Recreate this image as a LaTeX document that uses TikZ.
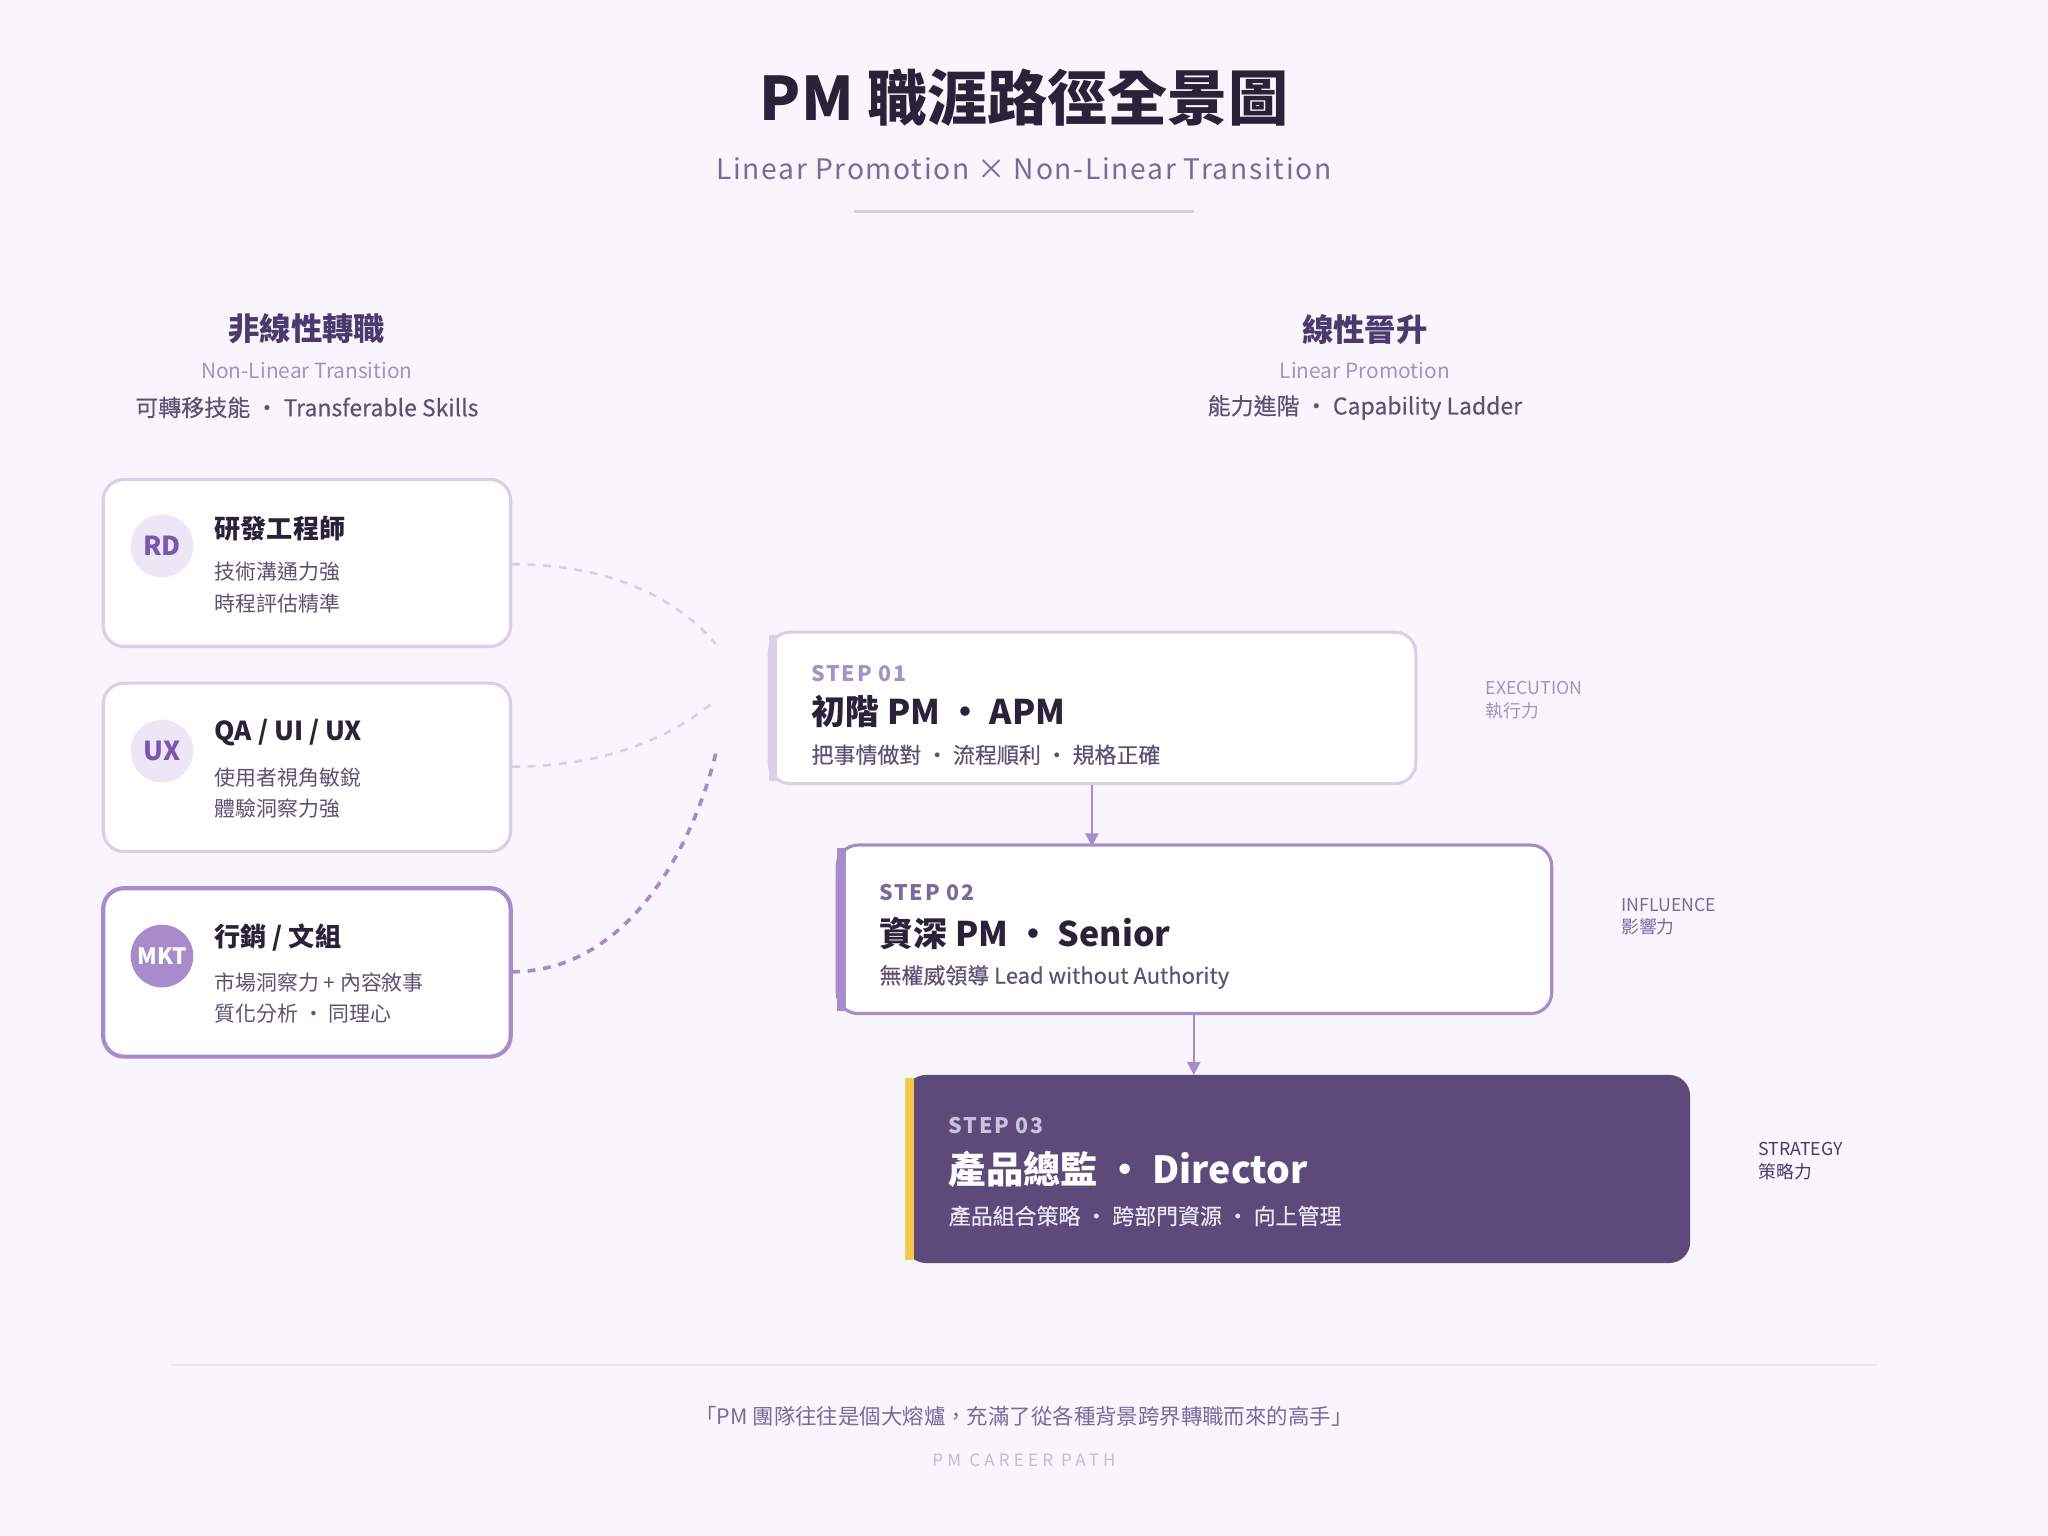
\documentclass[tikz,border=0pt]{standalone}
\usepackage{fontspec}
\setmainfont{Noto Sans CJK TC}
\usetikzlibrary{arrows.meta}
\definecolor{bg}{HTML}{F8F5FC}
\definecolor{ink}{HTML}{2A2238}
\definecolor{head}{HTML}{4A3A6E}
\definecolor{sub}{HTML}{7A6A9E}
\definecolor{pale}{HTML}{A394C4}
\definecolor{txt}{HTML}{5E5274}
\definecolor{lbd}{HTML}{D9CFEB}
\definecolor{mid}{HTML}{A98BCB}
\definecolor{circ}{HTML}{EDE6F6}
\definecolor{circtx}{HTML}{7A56B0}
\definecolor{dark}{HTML}{5E4A7A}
\definecolor{gold}{HTML}{F2C94C}
\begin{document}
\begin{tikzpicture}[x=0.5pt,y=-0.5pt,
  lbl/.style={inner sep=0,anchor=west},
  card/.style={draw=lbd,line width=1.2pt,fill=white,rounded corners=8pt},
  circ/.style={circle,fill=circ,text=circtx,font=\fontsize{10}{10}\selectfont\bfseries,minimum size=24pt,inner sep=0},
  ctitle/.style={lbl,font=\fontsize{10}{12}\selectfont\bfseries,text=ink},
  cline/.style={lbl,font=\fontsize{8}{10}\selectfont,text=txt},
  steplbl/.style={lbl,font=\fontsize{8.2}{10}\selectfont\bfseries,text=sub},
  stitle/.style={lbl,font=\fontsize{13}{15}\selectfont\bfseries,text=ink},
  ssub/.style={lbl,font=\fontsize{8.4}{10}\selectfont\addfontfeature{FakeBold=0.3},text=txt},
  side/.style={lbl,font=\fontsize{6.8}{8.5}\selectfont,text=sub,align=left},
  dcurve/.style={draw=lbd,line width=1pt,dash pattern=on 3pt off 3pt},
  arr/.style={draw=mid,line width=1pt,-{Triangle[length=5pt,width=5pt]}}
]
\fill[bg] (0,0) rectangle (1568,1176);
\useasboundingbox (0,0) rectangle (1568,1176);
% title
\node[font=\fontsize{23}{26}\selectfont\bfseries,text=ink] (title) at (784,75) {PM 職涯路徑全景圖};
\node[font=\fontsize{10.8}{12}\selectfont,text=sub] (subtitle) at (784,129) {\addfontfeature{LetterSpace=6}Linear Promotion × Non-Linear Transition};
\draw[lbd,line width=1pt] (654,162) -- (914,162);
% headers
\node[font=\fontsize{12}{14}\selectfont\bfseries,text=head] (lh) at (235,252) {非線性轉職};
\node[font=\fontsize{8}{10}\selectfont,text=pale] (lh2) at (235,284) {Non-Linear Transition};
\node[font=\fontsize{8.8}{11}\selectfont\addfontfeature{FakeBold=0.3},text=txt] (lh3) at (235,312) {可轉移技能 • Transferable Skills};
\node[font=\fontsize{12}{14}\selectfont\bfseries,text=head] (rh) at (1045,252) {線性晉升};
\node[font=\fontsize{8}{10}\selectfont,text=pale] (rh2) at (1045,284) {Linear Promotion};
\node[font=\fontsize{8.8}{11}\selectfont\addfontfeature{FakeBold=0.3},text=txt] (rh3) at (1045,312) {能力進階 • Capability Ladder};
% cards
\draw[card] (79,367) rectangle (391,495);
\coordinate (rdR) at (392,432);
\node[circ] (rd) at (124,418) {RD};
\node[ctitle] (rdt) at (164,405) {研發工程師};
\node[cline] (rd1) at (164,438) {技術溝通力強};
\node[cline] (rd2) at (164,462) {時程評估精準};
\draw[card] (79,523) rectangle (391,652);
\coordinate (uxR) at (392,587);
\node[circ] (ux) at (124,575) {UX};
\node[ctitle] (uxt) at (164,561) {QA / UI / UX};
\node[cline] (ux1) at (164,595) {使用者視角敏銳};
\node[cline] (ux2) at (164,619) {體驗洞察力強};
\draw[card,draw=mid,line width=1.6pt] (79,680) rectangle (391,809);
\coordinate (mkR) at (392,744);
\node[circ,fill=mid,text=white,font=\fontsize{8.6}{9}\selectfont\bfseries] (mk) at (124,732) {MKT};
\node[ctitle] (mkt) at (164,718) {行銷 / 文組};
\node[cline] (mk1) at (164,752) {市場洞察力 + 內容敘事};
\node[cline] (mk2) at (164,776) {質化分析 • 同理心};
% dashed curves
\coordinate (e1) at (548,493);
\coordinate (e2) at (548,536);
\coordinate (e3) at (548,577);
\draw[dcurve] (rdR) .. controls (470,432) and (520,460) .. (e1);
\draw[dcurve] (uxR) .. controls (470,587) and (520,560) .. (e2);
\draw[dcurve,draw=mid,line width=1.4pt] (mkR) .. controls (480,744) and (530,650) .. (e3);
% step 1
\draw[card,draw=lbd] (589,484) rectangle (1084,600);
\draw[lbd,line width=3pt] (592,486) -- (592,598);
\node[steplbl,text=pale] (s1a) at (621,516) {\addfontfeature{LetterSpace=8}STEP 01};
\node[stitle] (s1b) at (621,545) {初階 PM • APM};
\node[ssub] (s1c) at (621,578) {把事情做對 • 流程順利 • 規格正確};
\node[side,text=pale] (s1d) at (1137,536) {EXECUTION\\執行力};
% step 2
\draw[card,draw=mid] (641,647) rectangle (1188,776);
\draw[mid,line width=3.5pt] (644,649) -- (644,774);
\node[steplbl] (s2a) at (673,683) {\addfontfeature{LetterSpace=8}STEP 02};
\node[stitle] (s2b) at (673,715) {資深 PM • Senior};
\node[ssub] (s2c) at (673,748) {無權威領導 Lead without Authority};
\node[side] (s2d) at (1241,702) {INFLUENCE\\影響力};
% step 3
\fill[dark,rounded corners=8pt] (693,823) rectangle (1294,967);
\draw[gold,line width=3.5pt] (696,825) -- (696,965);
\node[steplbl,text=circ!70!sub] (s3a) at (726,862) {\addfontfeature{LetterSpace=8}STEP 03};
\node[stitle,text=white,font=\fontsize{14.3}{17}\selectfont\bfseries] (s3b) at (726,895) {產品總監 • Director};
\node[ssub,text=circ] (s3c) at (726,931) {產品組合策略 • 跨部門資源 • 向上管理};
\node[side,text=head] (s3d) at (1346,889) {STRATEGY\\策略力};
% arrows
\coordinate (a1s) at (836,601); \coordinate (a1e) at (836,648);
\coordinate (a2s) at (914,777); \coordinate (a2e) at (914,823);
\draw[arr] (a1s) -- (a1e);
\draw[arr] (a2s) -- (a2e);
% footer
\draw[lbd!60,line width=0.6pt] (131,1045) -- (1437,1045);
\node[font=\fontsize{8.2}{10}\selectfont,text=sub] (q) at (784,1084) {「PM 團隊往往是個大熔爐，充滿了從各種背景跨界轉職而來的高手」};
\node[font=\fontsize{6.5}{8}\selectfont,text=lbd!80!sub] (f) at (784,1118) {\addfontfeature{LetterSpace=25}PM CAREER PATH};
\end{tikzpicture}
\end{document}
